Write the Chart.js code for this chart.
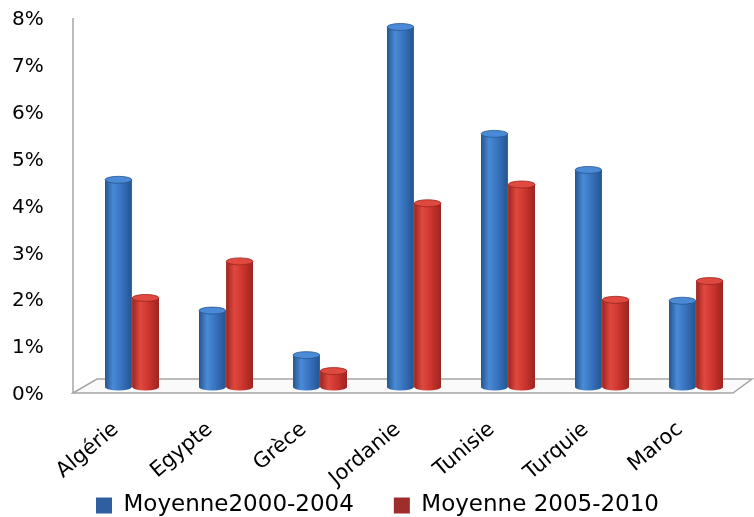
<!DOCTYPE html>
<html>
<head>
<meta charset="utf-8">
<script src="https://cdn.jsdelivr.net/npm/chart.js@4"></script>
<style>
  body { margin: 0; background: #fff; }
  #wrap { width: 754px; height: 517px; }
</style>
</head>
<body>
<div id="wrap"><canvas id="myChart"></canvas></div>
<script>
const categories = ['Algérie', 'Egypte', 'Grèce', 'Jordanie', 'Tunisie', 'Turquie', 'Maroc']
const moyenne2000_2004 = [4.42, 1.63, 0.68, 7.68, 5.40, 4.63, 1.84]
const moyenne2005_2010 = [1.90, 2.68, 0.34, 3.92, 4.32, 1.86, 2.26]
const yTicks = [0, 1, 2, 3, 4, 5, 6, 7, 8]

// couleurs des cylindres : sombre, clair, moyen
const shades = [
    ['#24558f', '#4a8ad6', '#3670bb'],
    ['#9c2420', '#e0493f', '#c8332c']
]

// sol en perspective + axe vertical
const floor3d = {
    id: 'floor3d',
    beforeDatasetsDraw(chart) {
        const c = chart.ctx, a = chart.chartArea
        const b = chart.scales.y.getPixelForValue(0)
        c.save()
        c.strokeStyle = '#a6a6a6'
        c.lineWidth = 1.5
        c.beginPath()
        c.moveTo(a.left - 12, a.top + 6)
        c.lineTo(a.left - 12, b + 6)
        c.stroke()
        c.beginPath()
        c.moveTo(a.left - 12, b + 6)
        c.lineTo(a.left + 12, b - 8)
        c.lineTo(a.right + 9, b - 8)
        c.lineTo(a.right - 10, b + 6)
        c.closePath()
        c.fillStyle = '#fafafa'
        c.fill()
        c.stroke()
        c.restore()
    }
}

// effet cylindre par dessus les barres
const cylinders = {
    id: 'cylinders',
    afterDatasetsDraw(chart) {
        const c = chart.ctx
        chart.data.datasets.forEach((ds, di) => {
            const s = shades[di]
            chart.getDatasetMeta(di).data.forEach(bar => {
                const x0 = bar.x - bar.width / 2, x1 = bar.x + bar.width / 2
                const rx = bar.width / 2, ry = 3.5
                const g = c.createLinearGradient(x0, 0, x1, 0)
                g.addColorStop(0, s[0])
                g.addColorStop(0.3, s[1])
                g.addColorStop(0.65, s[2])
                g.addColorStop(1, s[0])
                c.save()
                c.fillStyle = g
                c.beginPath()
                c.moveTo(x0, bar.y)
                c.lineTo(x0, bar.base)
                c.ellipse(bar.x, bar.base, rx, ry, 0, Math.PI, 0, true)
                c.lineTo(x1, bar.y)
                c.closePath()
                c.fill()
                c.beginPath()
                c.ellipse(bar.x, bar.y, rx, ry, 0, 0, Math.PI * 2)
                c.fillStyle = s[1]
                c.fill()
                c.strokeStyle = s[0]
                c.lineWidth = 0.8
                c.stroke()
                c.restore()
            })
        })
    }
}

new Chart(document.querySelector('#myChart'), {
    type: 'bar',
    data: {
        labels: categories,
        datasets: [{
            label: 'Moyenne2000-2004',
            data: moyenne2000_2004,
            backgroundColor: '#2f5f9f',
            borderWidth: 0
        }, {
            label: 'Moyenne 2005-2010',
            data: moyenne2005_2010,
            backgroundColor: '#9e2e2c',
            borderWidth: 0
        }]
    },
    options: {
        responsive: true,
        maintainAspectRatio: false,
        animation: false,
        datasets: { bar: { categoryPercentage: 0.58, barPercentage: 0.98 } },
        layout: { autoPadding: false, padding: { left: 12, right: 11, top: 9, bottom: -10 } },
        plugins: {
            tooltip: { enabled: false },
            legend: {
                position: 'bottom',
                labels: {
                    boxWidth: 16, boxHeight: 16, padding: 40,
                    color: '#000',
                    font: { family: 'DejaVu Sans', size: 23 }
                }
            }
        },
        scales: {
            x: {
                afterFit: axis => {
                    axis.height = 67
                    // les étiquettes inclinées débordent sur la légende
                    axis._computeLabelArea = () => undefined
                },
                grid: { display: false },
                border: { display: false },
                ticks: {
                    minRotation: 40, maxRotation: 40,
                    padding: 22,
                    labelOffset: -16,
                    color: '#000',
                    font: { family: 'DejaVu Sans', size: 21 }
                }
            },
            y: {
                min: 0, max: 8,
                afterBuildTicks: axis => { axis.ticks = yTicks.map(v => ({ value: v })) },
                afterFit: axis => { axis.width = 73 },
                grid: { display: false, drawTicks: false },
                border: { display: false },
                ticks: {
                    padding: 0,
                    crossAlign: 'far',
                    labelOffset: 8,
                    color: '#000',
                    font: { family: 'DejaVu Sans', size: 20 },
                    callback: v => v + '%'
                }
            }
        }
    },
    plugins: [floor3d, cylinders]
})
</script>
</body>
</html>
